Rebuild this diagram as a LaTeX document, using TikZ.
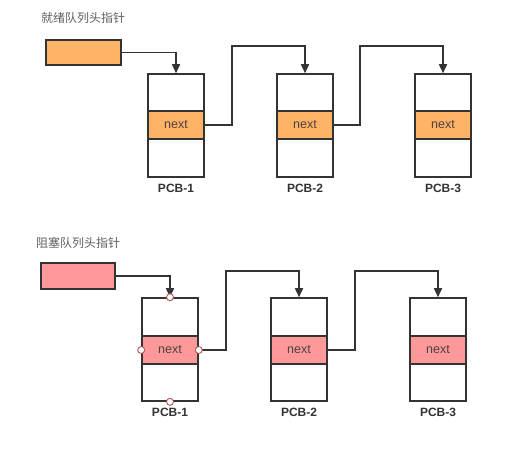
\documentclass[tikz,border=0pt]{standalone}
\usepackage{fontspec}
\setmainfont{Liberation Sans}
\newfontfamily\cjk{Noto Sans CJK SC}
\usetikzlibrary{arrows.meta}
\definecolor{lineC}{HTML}{333333}
\definecolor{orangeF}{HTML}{FFB366}
\definecolor{pinkF}{HTML}{FF9999}
\definecolor{txtC}{HTML}{4D4040}
\definecolor{titleC}{HTML}{606060}
\definecolor{dotC}{HTML}{B85450}
\tikzset{
  pcbbox/.style={draw=lineC, line width=1.6pt, fill=white, minimum width=56pt, minimum height=103pt, inner sep=0pt},
  nextbox/.style={draw=lineC, line width=1.6pt, minimum width=56pt, minimum height=28pt, inner sep=0pt, font=\fontsize{12.5}{14}\selectfont, text=txtC},
  headbox/.style={draw=lineC, line width=1.6pt, minimum width=75pt, minimum height=25pt, inner sep=0pt},
  pcblabel/.style={font=\fontsize{12}{14}\selectfont\bfseries, text=lineC},
  titlelabel/.style={font=\cjk\fontsize{12}{14}\selectfont, text=titleC, anchor=west, inner sep=0pt},
  conn/.style={draw=lineC, line width=1.6pt, -{Triangle[length=9pt,width=8pt]}},
  dot/.style={circle, draw=dotC, fill=white, line width=0.9pt, minimum size=7pt, inner sep=0pt}
}
\begin{document}
\begin{tikzpicture}[x=1pt,y=-1pt]
\useasboundingbox (0,0) rectangle (524,461);
\fill[white] (0,0) rectangle (524,461);
% ---------- ready queue ----------
\node[titlelabel] (title1) at (41,18) {就绪队列头指针};
\node[headbox, fill=orangeF] (h1) at (83.5,52.5) {};
\node[pcbbox] (p1) at (176,125.5) {};
\node[pcbbox] (p2) at (305,125.5) {};
\node[pcbbox] (p3) at (443,125.5) {};
\node[nextbox, fill=orangeF] (n1) at (176,125) {next};
\node[nextbox, fill=orangeF] (n2) at (305,125) {next};
\node[nextbox, fill=orangeF] (n3) at (443,125) {next};
\node[pcblabel] (l1) at (176,188) {PCB-1};
\node[pcblabel] (l2) at (305,188) {PCB-2};
\node[pcblabel] (l3) at (443,188) {PCB-3};
\coordinate (c1) at (232,46);
\coordinate (c2) at (360,46);
\draw[conn] (h1.east) -| (p1.north);
\draw[conn] (n1.east) -| (c1) -| (p2.north);
\draw[conn] (n2.east) -| (c2) -| (p3.north);
% ---------- blocked queue ----------
\node[titlelabel] (title2) at (36,243) {阻塞队列头指针};
\node[headbox, fill=pinkF, minimum width=74pt, minimum height=26pt] (h2) at (78,276) {};
\node[pcbbox] (q1) at (170,349.5) {};
\node[pcbbox] (q2) at (299,349.5) {};
\node[pcbbox] (q3) at (438,349.5) {};
\node[nextbox, fill=pinkF] (m1) at (170,350) {next};
\node[nextbox, fill=pinkF] (m2) at (299,350) {next};
\node[nextbox, fill=pinkF] (m3) at (438,350) {next};
\node[pcblabel] (k1) at (170,412) {PCB-1};
\node[pcblabel] (k2) at (299,412) {PCB-2};
\node[pcblabel] (k3) at (438,412) {PCB-3};
\coordinate (d1) at (226,271);
\coordinate (d2) at (355,271);
\draw[conn] (h2.east) -| (q1.north);
\draw[conn] (m1.east) -| (d1) -| (q2.north);
\draw[conn] (m2.east) -| (d2) -| (q3.north);
\node[dot] (o1) at (q1.north) {};
\node[dot] (o2) at (q1.south) {};
\node[dot] (o3) at (m1.west) {};
\node[dot] (o4) at (m1.east) {};
\end{tikzpicture}
\end{document}
